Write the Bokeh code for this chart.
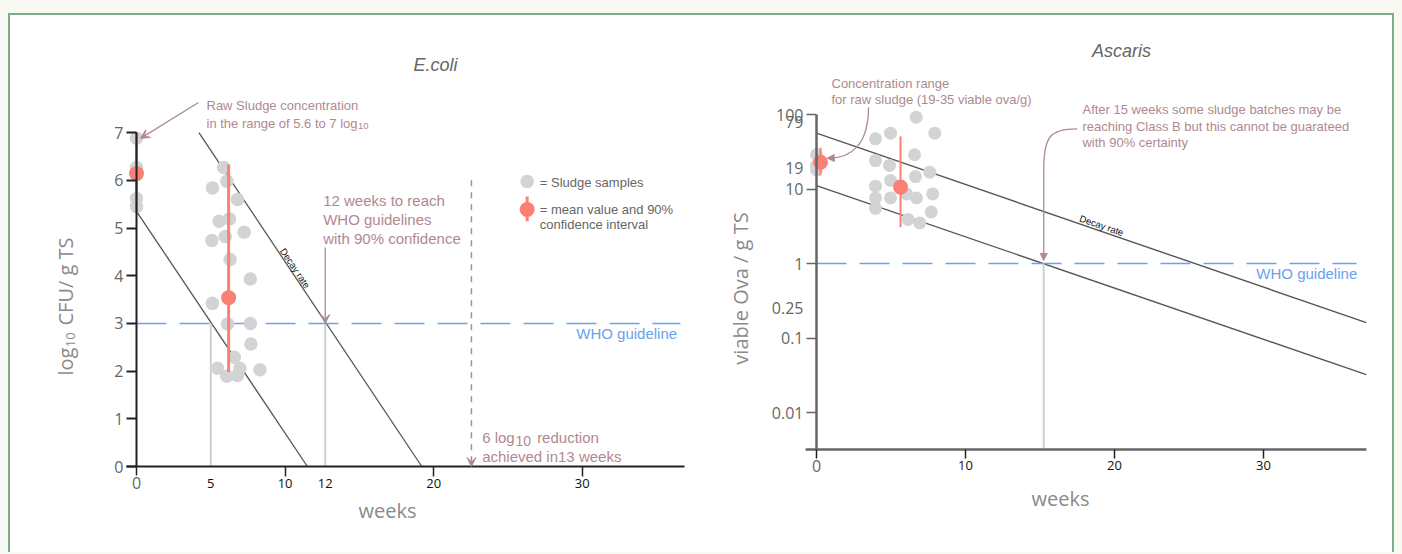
import math
from bokeh.plotting import figure
from bokeh.layouts import row
from bokeh.models import (LinearAxis, LogAxis, FixedTicker, Range1d, Arrow,
                          VeeHead, NormalHead, NumeralTickFormatter, GlobalInlineStyleSheet)
from bokeh.core.properties import value
from bokeh.embed import file_html
from bokeh.resources import INLINE

# ---------------- data: E.coli ----------------
ecoli_raw_weeks = [0, 0, 0, 0]
ecoli_raw_log = [6.88, 6.27, 5.62, 5.45]
ecoli_weeks = [5.86, 6.08, 5.11, 6.80, 5.56, 6.26, 7.25, 5.07, 5.97, 6.30, 7.66,
               5.11, 6.13, 7.66, 7.70, 6.58, 5.45, 6.96, 8.31, 6.08, 6.80]
ecoli_log = [6.27, 5.98, 5.84, 5.60, 5.14, 5.19, 4.91, 4.74, 4.82, 4.34, 3.93,
             3.42, 2.99, 3.00, 2.57, 2.29, 2.06, 2.06, 2.03, 1.89, 1.91]
ecoli_mean_weeks = [0, 6.2]
ecoli_mean_log = [6.14, 3.54]
ecoli_ci_low = [5.32, 1.98]
ecoli_ci_high = [7.0, 6.33]
ecoli_decay_x0 = [0, 4.2]
ecoli_decay_y0 = [5.35, 7.0]
ecoli_decay_x1 = [11.5, 19.2]
ecoli_decay_y1 = [0, 0]
ecoli_who = 3
ecoli_guideline_weeks = [5, 12.7]
ecoli_reduction_week = 22.54
ecoli_yticks = [0, 1, 2, 3, 4, 5, 6, 7]

# ---------------- data: Ascaris ----------------
asc_raw_weeks = [0, 0, 0]
asc_raw_ova = [28.8, 20.7, 18.1]
asc_weeks = [3.96, 4.97, 6.69, 7.94, 6.58, 3.96, 4.90, 7.60, 6.64, 4.97, 3.96,
             6.04, 3.96, 4.97, 6.71, 7.80, 3.96, 7.70, 6.15, 6.93]
asc_ova = [47.2, 56.1, 92.0, 56.1, 28.8, 24.1, 20.7, 16.8, 14.7, 13.0, 10.9,
           8.6, 7.6, 7.6, 7.6, 8.6, 5.5, 4.9, 3.9, 3.5]
asc_mean_weeks = [0.27, 5.64]
asc_mean_ova = [22.9, 10.6]
asc_ci_low = [15.2, 3.07]
asc_ci_high = [35.7, 50.7]
asc_decay_x0 = [0, 0]
asc_decay_y0 = [56.1, 11.1]
asc_decay_x1 = [36.9, 36.9]
asc_decay_y1 = [0.161, 0.0323]
asc_who = 1
asc_guideline_week = 15.25
asc_major_ticks = [0.01, 0.1, 1, 10, 100]
asc_extra_ticks = [0.25, 19, 79]
week_ticks = [10, 20, 30]

# ---------------- style ----------------
GREY_PT = "#d3d3d5"
RED = "#fa8075"
LINE = "#555555"
BLUE = "#68a3ec"
MAUVE = "#b08990"
AXIS_T = "#8a8a8a"
TICK_T = "#666666"
SANS = "Liberation Sans"
OPEN = "Open Sans"

H = 528
LW, RW = 698, 684


def txt(p, x, y, s, size, color, font=SANS, align="left", baseline="middle",
        angle=0.0, style="normal"):
    p.text(x=[x], y=[y], text=[s], text_font=value(font), text_font_size=f"{size}px",
           text_color=color, text_align=align, text_baseline=baseline, angle=angle,
           text_font_style=style)


def base_fig(w, xr, yr, ytype="linear"):
    p = figure(width=w, height=H, x_range=Range1d(*xr), y_range=Range1d(*yr),
               y_axis_type=ytype, x_axis_location=None, y_axis_location=None,
               output_backend="svg", toolbar_location=None, min_border=0,
               outline_line_color=None, background_fill_color="white",
               border_fill_color="white")
    p.grid.visible = False
    return p


# ================= LEFT: E.coli =================
# mapping: page x = 136 + 14.86*w ; page y = 466 - 47.7*v ; figure origin at page (10, 15)
sx, ox = 14.86, 126.0
sy, oy = 47.7, 451.0
p1 = base_fig(LW, (-ox / sx, (LW - ox) / sx), ((oy - H) / sy, oy / sy))

# decay lines
p1.segment(x0=ecoli_decay_x0, y0=ecoli_decay_y0, x1=ecoli_decay_x1, y1=ecoli_decay_y1,
           line_color=LINE, line_width=1.3)
# grey guideline verticals
p1.segment(x0=ecoli_guideline_weeks, y0=[0, 0], x1=ecoli_guideline_weeks,
           y1=[ecoli_who, ecoli_who], line_color="#d0d0d0", line_width=2)
# WHO line
p1.segment(x0=[0], y0=[ecoli_who], x1=[36.6], y1=[ecoli_who], line_color=BLUE,
           line_width=1.5, line_dash="30 13")
# samples
p1.scatter(ecoli_raw_weeks + ecoli_weeks, ecoli_raw_log + ecoli_log, size=13.5,
           fill_color=GREY_PT, line_color=None)
# mean + CI
p1.segment(x0=ecoli_mean_weeks, y0=ecoli_ci_low, x1=ecoli_mean_weeks, y1=ecoli_ci_high,
           line_color=RED, line_width=3)
p1.scatter(ecoli_mean_weeks, ecoli_mean_log, size=15, fill_color=RED, line_color=None)

# dashed reduction arrow
p1.add_layout(Arrow(end=VeeHead(size=9, fill_color=MAUVE, line_color=MAUVE),
                    x_start=ecoli_reduction_week, y_start=6.0, x_end=ecoli_reduction_week,
                    y_end=0, line_color=MAUVE, line_width=1.5, line_dash="6 6"))
# 12 weeks arrow
p1.add_layout(Arrow(end=VeeHead(size=9, fill_color=MAUVE, line_color=MAUVE),
                    x_start=ecoli_guideline_weeks[1], y_start=4.59,
                    x_end=ecoli_guideline_weeks[1], y_end=ecoli_who,
                    line_color=MAUVE, line_width=1.3))
# raw sludge arrow
p1.add_layout(Arrow(end=VeeHead(size=9, fill_color=MAUVE, line_color=MAUVE),
                    x_start=4.17, y_start=7.63, x_end=0.27, y_end=6.88,
                    line_color=MAUVE, line_width=1.3))

# legend
p1.scatter([26.29], [5.975], size=13.5, fill_color=GREY_PT, line_color=None)
p1.segment(x0=[26.29], y0=[5.14], x1=[26.29], y1=[5.66], line_color=RED, line_width=3)
p1.scatter([26.29], [5.388], size=15, fill_color=RED, line_color=None)
txt(p1, 27.14, 5.96, "= Sludge samples", 13, TICK_T)
txt(p1, 27.14, 5.388, "= mean value and 90%", 13, TICK_T)
txt(p1, 27.14, 5.073, "confidence interval", 13, TICK_T)

# texts
txt(p1, 20.12, 8.407, "E.coli", 18, TICK_T, align="center", style="italic")
txt(p1, 4.71, 7.568, "Raw Sludge concentration", 13, MAUVE)
txt(p1, 4.71, 7.19, "in the range of 5.6 to 7 log", 13, MAUVE)
txt(p1, 14.91, 7.128, "10", 9.5, MAUVE)
txt(p1, 12.56, 5.577, "12 weeks to reach", 15, MAUVE)
txt(p1, 12.56, 5.178, "WHO guidelines", 15, MAUVE)
txt(p1, 12.56, 4.786, "with 90% confidence", 15, MAUVE)
txt(p1, 23.26, 0.602, "6 log", 15, MAUVE)
txt(p1, 25.50, 0.54, "10", 14, MAUVE)
txt(p1, 26.96, 0.602, "reduction", 15, MAUVE)
txt(p1, 23.26, 0.21, "achieved in13 weeks", 15, MAUVE)
txt(p1, 36.38, 2.795, "WHO guideline", 15, BLUE, align="right")
txt(p1, 10.37, 4.094, "Decay rate", 9.5, "#111111", align="center", baseline="bottom",
    angle=-0.984)
# axis titles
txt(p1, -4.75, 1.908, "log", 20, AXIS_T, font=OPEN, baseline="alphabetic", angle=math.pi / 2)
txt(p1, -4.44, 2.50, "10", 13, AXIS_T, font=OPEN, baseline="alphabetic", angle=math.pi / 2)
txt(p1, -4.75, 2.956, "CFU/ g TS", 20, AXIS_T, font=OPEN, baseline="alphabetic",
    angle=math.pi / 2)
txt(p1, 16.89, -0.922, "weeks", 20, AXIS_T, font=OPEN, align="center")

# axes
p1.add_layout(LinearAxis(fixed_location=0, bounds=(0, 7), ticker=FixedTicker(ticks=ecoli_yticks, minor_ticks=[]),
                         axis_line_color="#222222", axis_line_width=2,
                         major_tick_line_color="#222222", major_tick_line_width=2,
                         major_tick_out=10, major_tick_in=0, minor_tick_line_color=None,
                         major_label_text_font=OPEN, major_label_text_font_size="16px",
                         major_label_text_color=TICK_T, major_label_standoff=3), "left")
p1.add_layout(LinearAxis(fixed_location=0, bounds=(-0.7, 36.9),
                         ticker=FixedTicker(ticks=week_ticks, minor_ticks=[]),
                         axis_line_color="#222222", axis_line_width=2,
                         major_tick_line_color="#222222", major_tick_line_width=1.5,
                         major_tick_out=10, major_tick_in=0, minor_tick_line_color=None,
                         major_label_text_font=OPEN, major_label_text_font_size="13px",
                         major_label_text_color="#111111", major_label_standoff=2), "below")
p1.add_layout(LinearAxis(fixed_location=0, ticker=FixedTicker(ticks=[0], minor_ticks=[]),
                         axis_line_color=None, major_tick_line_color="#222222",
                         major_tick_line_width=1.5, major_tick_out=9, major_tick_in=0,
                         minor_tick_line_color=None, major_label_text_font=OPEN,
                         major_label_text_font_size="16px", major_label_text_color=TICK_T,
                         major_label_standoff=1), "below")
p1.add_layout(LinearAxis(fixed_location=0, ticker=FixedTicker(ticks=ecoli_guideline_weeks, minor_ticks=[]),
                         axis_line_color=None, major_tick_line_color=None,
                         major_tick_out=10, major_tick_in=0, minor_tick_line_color=None,
                         major_label_overrides={ecoli_guideline_weeks[1]: "12"},
                         major_label_text_font=OPEN, major_label_text_font_size="13px",
                         major_label_text_color="#111111", major_label_standoff=2), "below")

# ================= RIGHT: Ascaris =================
# mapping: page x = 816 + 14.9*w ; page y = 263 - 74.5*log10(v); figure origin at page (708, 15)
sx2, ox2 = 14.9, 108.0
dec, oy2 = 74.5, 248.0
ymin_axis = 10 ** -2.5
p2 = base_fig(RW, (-ox2 / sx2, (RW - ox2) / sx2),
              (10 ** ((oy2 - H) / dec), 10 ** (oy2 / dec)), ytype="log")

p2.segment(x0=asc_decay_x0, y0=asc_decay_y0, x1=asc_decay_x1, y1=asc_decay_y1,
           line_color=LINE, line_width=1.4)
p2.segment(x0=[asc_guideline_week], y0=[ymin_axis], x1=[asc_guideline_week], y1=[asc_who],
           line_color="#d0d0d0", line_width=2)
p2.segment(x0=[0], y0=[asc_who], x1=[36.25], y1=[asc_who], line_color=BLUE,
           line_width=1.5, line_dash="30 13")
p2.scatter(asc_raw_weeks + asc_weeks, asc_raw_ova + asc_ova, size=13,
           fill_color=GREY_PT, line_color=None)
p2.segment(x0=asc_mean_weeks, y0=asc_ci_low, x1=asc_mean_weeks, y1=asc_ci_high,
           line_color=RED, line_width=2)
p2.scatter(asc_mean_weeks, asc_mean_ova, size=15, fill_color=RED, line_color=None)

# curved arrow 1 (raw sludge)
p2.bezier(x0=[3.49], y0=[125.3], x1=[0.80], y1=[25.9], cx0=[3.49], cy0=[38.4],
          cx1=[2.28], cy1=[25.7], line_color=MAUVE, line_width=1.3)
p2.add_layout(Arrow(end=NormalHead(size=7, fill_color=MAUVE, line_color=MAUVE),
                    x_start=0.95, y_start=26.0, x_end=0.72, y_end=25.9,
                    line_color=MAUVE, line_width=1.3))
# curved arrow 2 (after 15 weeks)
p2.bezier(x0=[17.50], y0=[64.3], x1=[asc_guideline_week], y1=[17.7], cx0=[15.7],
          cy0=[64.3], cx1=[asc_guideline_week], cy1=[52.3], line_color=MAUVE, line_width=1.3)
p2.add_layout(Arrow(end=NormalHead(size=7, fill_color=MAUVE, line_color=MAUVE),
                    x_start=asc_guideline_week, y_start=17.7, x_end=asc_guideline_week,
                    y_end=1.1, line_color=MAUVE, line_width=1.3))

txt(p2, 20.47, 722, "Ascaris", 18, TICK_T, align="center", style="italic")
txt(p2, 1.007, 263, "Concentration range", 13, MAUVE)
txt(p2, 1.007, 157.5, "for raw sludge (19-35 viable ova/g)", 13, MAUVE)
txt(p2, 17.85, 115.7, "After 15 weeks some sludge batches may be", 13, MAUVE)
txt(p2, 17.85, 69.6, "reaching Class B but this cannot be guarateed", 13, MAUVE)
txt(p2, 17.85, 42.5, "with 90% certainty", 13, MAUVE)
txt(p2, 36.29, 0.727, "WHO guideline", 15, BLUE, align="right")
txt(p2, 19.01, 2.765, "Decay rate", 9.5, "#111111", align="center", baseline="bottom",
    angle=-0.3316)
txt(p2, -5.1, 0.462, "viable Ova / g TS", 20, AXIS_T, font=OPEN, align="center",
    angle=math.pi / 2)
txt(p2, 16.38, 7.0e-4, "weeks", 20, AXIS_T, font=OPEN, align="center")

fmt = NumeralTickFormatter(format="0.[00]")
p2.add_layout(LogAxis(fixed_location=0, bounds=(ymin_axis, 100),
                      ticker=FixedTicker(ticks=asc_major_ticks, minor_ticks=[]), formatter=fmt,
                      axis_line_color="#666666", axis_line_width=2.5,
                      major_tick_line_color="#666666", major_tick_line_width=1.5,
                      major_tick_out=10, major_tick_in=0, minor_tick_line_color=None,
                      major_label_text_font=OPEN, major_label_text_font_size="16px",
                      major_label_text_color=TICK_T, major_label_standoff=3), "left")
p2.add_layout(LogAxis(fixed_location=0, ticker=FixedTicker(ticks=asc_extra_ticks, minor_ticks=[]),
                      formatter=NumeralTickFormatter(format="0.[00]"),
                      axis_line_color=None, major_tick_line_color=None,
                      major_tick_out=10, major_tick_in=0, minor_tick_line_color=None,
                      major_label_text_font=OPEN, major_label_text_font_size="16px",
                      major_label_text_color=TICK_T, major_label_standoff=3), "left")
p2.add_layout(LinearAxis(fixed_location=ymin_axis, bounds=(-0.75, 36.9),
                         ticker=FixedTicker(ticks=week_ticks, minor_ticks=[]),
                         axis_line_color="#666666", axis_line_width=2.5,
                         major_tick_line_color="#222222", major_tick_line_width=1.5,
                         major_tick_out=9, major_tick_in=0, minor_tick_line_color=None,
                         major_label_text_font=OPEN, major_label_text_font_size="13px",
                         major_label_text_color="#111111", major_label_standoff=2), "below")
p2.add_layout(LinearAxis(fixed_location=ymin_axis, ticker=FixedTicker(ticks=[0], minor_ticks=[]),
                         axis_line_color=None, major_tick_line_color="#222222",
                         major_tick_line_width=1.5, major_tick_out=9, major_tick_in=0,
                         minor_tick_line_color=None, major_label_text_font=OPEN,
                         major_label_text_font_size="16px", major_label_text_color=TICK_T,
                         major_label_standoff=1), "below")

BORDER = "2px solid #80ad88"
layout = row(p1, p2,
             styles={"border-left": BORDER, "border-top": BORDER, "border-right": BORDER,
                     "margin-top": "5px", "padding-bottom": "9px",
                     "background-color": "white"},
             stylesheets=[GlobalInlineStyleSheet(
                 css="body{background-color:#f7f9f2; margin:8px 8px 0 8px;}")])

with open("out.html", "w") as f:
    f.write(file_html(layout, INLINE))
